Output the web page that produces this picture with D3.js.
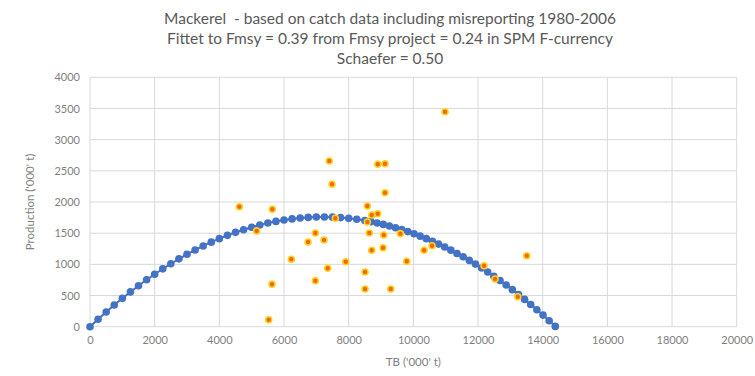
<!DOCTYPE html>
<html>
<head>
<meta charset="utf-8">
<script src="https://cdn.jsdelivr.net/npm/d3@7"></script>
<style>
  html, body { margin: 0; padding: 0; background: #fff; }
  .chart { width: 755px; height: 376px; }
  text { font-family: Lato, "Open Sans", sans-serif; }
</style>
</head>
<body>
<div class="chart"></div>
<script>
// title lines
const titleLines = [
  "Mackerel  - based on catch data including misreporting 1980-2006",
  "Fittet to Fmsy = 0.39 from Fmsy project = 0.24 in SPM F-currency",
  "Schaefer = 0.50"
];

// Schaefer fit (blue): TB and production
const fitTB = [0, 250, 500, 750, 1000, 1250, 1500, 1750, 2000, 2250, 2500, 2750, 3000, 3250, 3500,
  3750, 4000, 4250, 4500, 4750, 5000, 5250, 5500, 5750, 6000, 6250, 6500, 6750, 7000, 7250, 7500,
  7750, 8000, 8250, 8500, 8690, 8880, 9070, 9260, 9450, 9640, 9830, 10020, 10210, 10400, 10590,
  10780, 10970, 11160, 11350, 11540, 11730, 11920, 12110, 12300, 12490, 12680, 12870, 13060,
  13250, 13440, 13630, 13820, 14010, 14200, 14390];
const fitProd = [0, 120, 236, 348, 455, 558, 657, 752, 842, 928, 1010, 1088, 1161, 1230, 1295,
  1356, 1412, 1465, 1513, 1556, 1596, 1631, 1662, 1689, 1711, 1729, 1743, 1753, 1759, 1760, 1757,
  1750, 1738, 1723, 1703, 1685, 1664, 1641, 1616, 1588, 1558, 1525, 1490, 1452, 1412, 1370,
  1325, 1278, 1228, 1175, 1121, 1063, 1004, 942, 877, 810, 740, 669, 594,
  517, 438, 356, 272, 186, 96, 5];

// observed catch data (orange)
const obsTB = [10980, 7400, 8900, 9125, 7485, 9125, 5640, 8577, 8713, 8899, 7587, 8577, 5156,
  6969, 8639, 9084, 9598, 6743, 7238, 8713, 9063, 10578, 10331, 6226, 7909, 9796, 7352, 8506,
  6969, 5629, 8506, 9301, 5527, 12187, 12527, 13229, 13507, 4618];
const obsProd = [3448, 2658, 2605, 2614, 2284, 2149, 1883, 1936, 1791, 1812, 1739, 1679, 1535,
  1503, 1503, 1471, 1492, 1358, 1391, 1225, 1267, 1299, 1225, 1081, 1042, 1049, 937, 877,
  738, 680, 605, 605, 112, 978, 765, 481, 1139, 1925];

const xTicks = [0, 2000, 4000, 6000, 8000, 10000, 12000, 14000, 16000, 18000, 20000];
const yTicks = [0, 500, 1000, 1500, 2000, 2500, 3000, 3500, 4000];

const W = 755, H = 376;
const margin = { top: 77.3, right: 18.3, bottom: 49.3, left: 90 };
const width = W - margin.left - margin.right,
  height = H - margin.top - margin.bottom;

const svg = d3.select(document.querySelector(".chart"))
  .append("svg")
  .attr("width", W)
  .attr("height", H);

const g = svg.append("g")
  .attr("transform", `translate(${margin.left}, ${margin.top})`);

const x = d3.scaleLinear().domain([0, 20000]).range([0, width]);
const y = d3.scaleLinear().domain([0, 4000]).range([height, 0]);

// gridlines
g.append("g").selectAll("line.h")
  .data(yTicks)
  .enter().append("line")
  .attr("x1", 0).attr("x2", width)
  .attr("y1", d => y(d)).attr("y2", d => y(d))
  .style("stroke", "#d9d9d9").style("stroke-width", 1);
g.append("g").selectAll("line.v")
  .data(xTicks)
  .enter().append("line")
  .attr("y1", 0).attr("y2", height)
  .attr("x1", d => x(d)).attr("x2", d => x(d))
  .style("stroke", "#d9d9d9").style("stroke-width", 1);

// axes (labels only)
const xaxis = g.append("g")
  .attr("transform", `translate(0, ${height})`)
  .call(d3.axisBottom(x).tickValues(xTicks).tickSize(0).tickPadding(10).tickFormat(d3.format("d")));
const yaxis = g.append("g")
  .call(d3.axisLeft(y).tickValues(yTicks).tickSize(0).tickPadding(10).tickFormat(d3.format("d")));
[xaxis, yaxis].forEach(a => {
  a.select(".domain").remove();
  a.selectAll("text").style("font-size", "11px").style("fill", "#7f7f7f")
    .style("font-family", "Lato, sans-serif");
});

// fitted curve
const fit = fitTB.map((t, i) => ({ tb: t, p: fitProd[i] }));
const line = d3.line().x(d => x(d.tb)).y(d => y(d.p));
g.append("path")
  .attr("d", line(fit))
  .style("fill", "none")
  .style("stroke", "#4472c4")
  .style("stroke-width", 2);
g.append("g").selectAll("circle")
  .data(fit)
  .enter().append("circle")
  .attr("cx", d => x(d.tb)).attr("cy", d => y(d.p))
  .attr("r", 3.8)
  .style("fill", "#4472c4");

// observed points
const obs = obsTB.map((t, i) => ({ tb: t, p: obsProd[i] }));
g.append("g").selectAll("circle")
  .data(obs)
  .enter().append("circle")
  .attr("cx", d => x(d.tb)).attr("cy", d => y(d.p))
  .attr("r", 3)
  .style("fill", "#f0661c")
  .style("stroke", "#ffd21a")
  .style("stroke-width", 1.6);

// title
svg.append("g").selectAll("text")
  .data(titleLines)
  .enter().append("text")
  .attr("x", 390)
  .attr("y", (d, i) => 24 + i * 20)
  .attr("text-anchor", "middle")
  .style("font-size", "15.5px")
  .style("white-space", "pre")
  .style("fill", "#595959")
  .text(d => d);

// axis titles
svg.append("text")
  .attr("x", margin.left + x(10000))
  .attr("y", 366)
  .attr("text-anchor", "middle")
  .style("font-size", "11.5px")
  .style("fill", "#7f7f7f")
  .text("TB ('000' t)");
svg.append("text")
  .attr("transform", `translate(34, ${margin.top + height / 2}) rotate(-90)`)
  .attr("text-anchor", "middle")
  .style("font-size", "11.5px")
  .style("fill", "#7f7f7f")
  .text("Production ('000' t)");
</script>
</body>
</html>
